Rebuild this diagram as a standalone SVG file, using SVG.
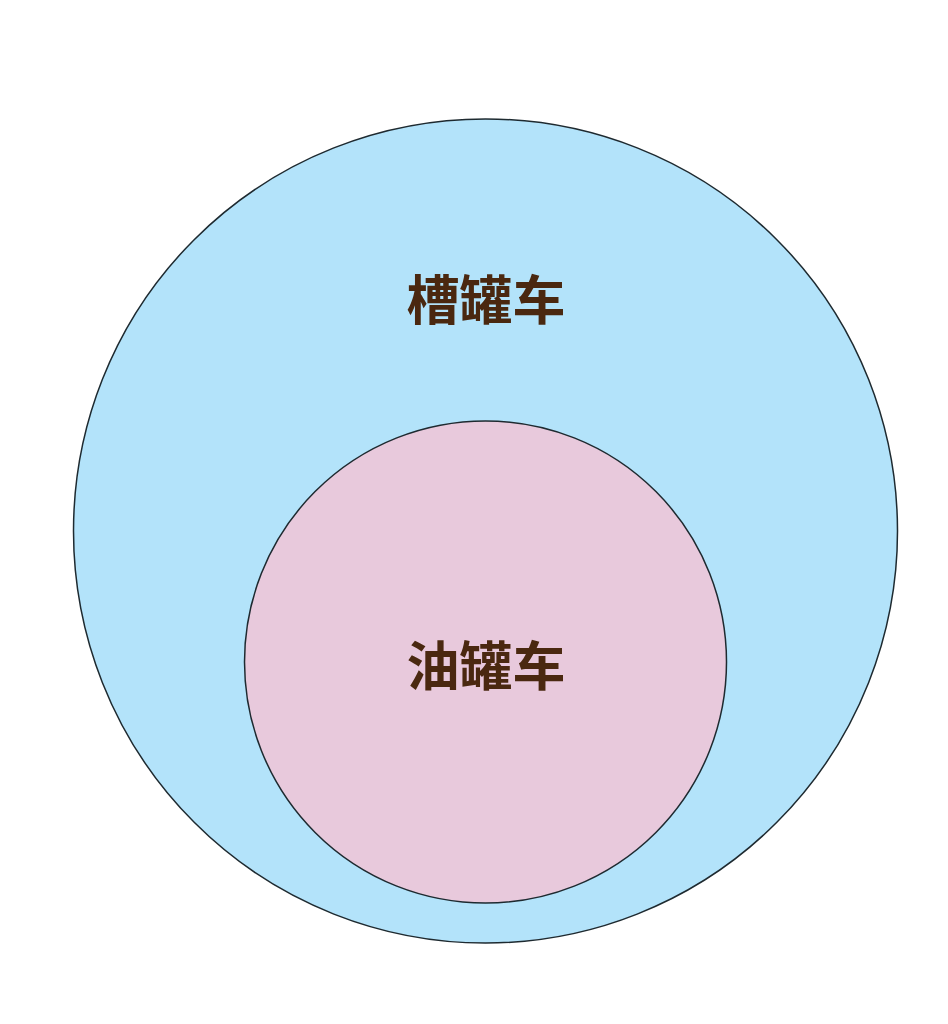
<svg xmlns="http://www.w3.org/2000/svg" width="948" height="1024" viewBox="0 0 948 1024">
<style>
.c{stroke:#1e2a30;stroke-width:1.5}
.t{font-family:"Noto Sans CJK SC","Noto Sans",sans-serif;font-weight:bold;font-size:53px;fill:#4a2810;text-anchor:middle;dominant-baseline:central}
</style>
<rect width="948" height="1024" fill="#ffffff"/>
<g id="outer">
<circle class="c" cx="485.5" cy="531" r="412" fill="#b3e3fa"/>
<text class="t" x="486" y="297">槽罐车</text>
</g>
<g id="inner">
<circle class="c" cx="485.5" cy="662" r="241" fill="#e8c9dc"/>
<text class="t" x="486" y="663">油罐车</text>
</g>
<g id="connectors"/>
</svg>
